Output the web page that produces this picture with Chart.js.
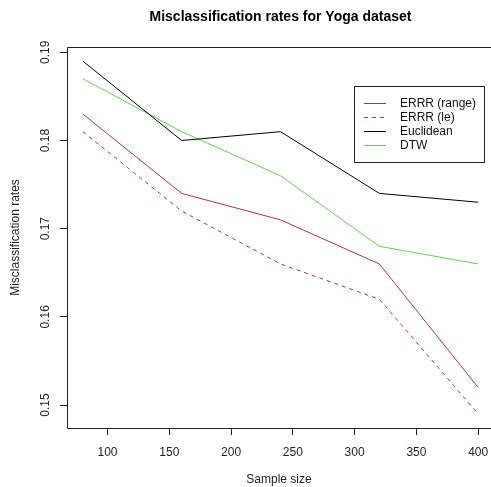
<!DOCTYPE html>
<html>
<head>
<meta charset="utf-8">
<script src="https://cdn.jsdelivr.net/npm/chart.js@4/dist/chart.umd.min.js"></script>
<style>
  html, body { margin: 0; padding: 0; background: #fff; overflow: hidden; }
  canvas { display: block; }
</style>
</head>
<body>
<canvas id="taxas" width="491" height="487"></canvas>
<script>
const sampleSizes = [80, 160, 240, 320, 400];
const errrRange = [0.183, 0.174, 0.171, 0.166, 0.152];
const errrLe = [0.181, 0.172, 0.166, 0.162, 0.149];
const euclidean = [0.189, 0.180, 0.181, 0.174, 0.173];
const dtw = [0.187, 0.181, 0.176, 0.168, 0.166];
const xTicks = [100, 150, 200, 250, 300, 350, 400];
const yTicks = [0.15, 0.16, 0.17, 0.18, 0.19];
const titulo = 'Misclassification rates for Yoga dataset';

const FONTE = "'Liberation Sans', Arial, sans-serif";

function pontos(ys) {
  return sampleSizes.map((x, i) => ({ x: x, y: ys[i] }));
}

// limites com 4% de folga, como no plot base do R
function faixa(vals) {
  const min = Math.min(...vals), max = Math.max(...vals);
  const d = (max - min) * 0.04;
  return [min - d, max + d];
}
const [xMin, xMaxR] = faixa(sampleSizes);
const [yMin, yMax] = faixa([].concat(errrRange, errrLe, euclidean, dtw));
// o canvas corta o plot 3px antes da borda direita (424 de 427px visiveis)
const xMax = xMin + (xMaxR - xMin) * 424 / 427;

// titulo centrado no plot inteiro, moldura (sem o lado direito, cortado) e legenda
const caixaELegenda = {
  id: 'caixaELegenda',
  afterDatasetsDraw(chart) {
    const { ctx, chartArea: a } = chart;
    ctx.save();
    ctx.fillStyle = '#000';
    ctx.font = 'bold 14px ' + FONTE;
    ctx.textAlign = 'center';
    ctx.textBaseline = 'middle';
    ctx.fillText(titulo, (a.left + a.right + 3) / 2, 17);

    const l = Math.round(a.left) + 0.5, t = Math.round(a.top) + 0.5, b = Math.round(a.bottom) + 0.5;
    ctx.strokeStyle = '#222';
    ctx.lineWidth = 1;
    ctx.setLineDash([]);
    ctx.beginPath();
    ctx.moveTo(chart.width, t);
    ctx.lineTo(l, t);
    ctx.lineTo(l, b);
    ctx.lineTo(chart.width, b);
    ctx.stroke();

    // legenda
    const lx = 354.5, ly = 86.5, lw = 130, lh = 76;
    ctx.fillStyle = '#fff';
    ctx.fillRect(lx, ly, lw, lh);
    ctx.strokeRect(lx, ly, lw, lh);
    ctx.font = '12px ' + FONTE;
    ctx.textAlign = 'left';
    chart.data.datasets.forEach((ds, i) => {
      const y = 103.5 + i * 14;
      ctx.strokeStyle = ds.borderColor;
      ctx.setLineDash(ds.borderDash || []);
      ctx.beginPath();
      ctx.moveTo(364, y);
      ctx.lineTo(386, y);
      ctx.stroke();
      ctx.fillStyle = '#111';
      ctx.fillText(ds.label, 400, y);
    });
    ctx.restore();
  }
};

new Chart(document.getElementById('taxas'), {
  type: 'line',
  data: {
    datasets: [
      { label: 'ERRR (range)', data: pontos(errrRange), borderColor: '#A8363A', borderWidth: 1 },
      { label: 'ERRR (le)', data: pontos(errrLe), borderColor: '#A8363A', borderWidth: 1, borderDash: [4, 4] },
      { label: 'Euclidean', data: pontos(euclidean), borderColor: '#000000', borderWidth: 1 },
      { label: 'DTW', data: pontos(dtw), borderColor: '#61D04F', borderWidth: 1 }
    ]
  },
  options: {
    responsive: false,
    animation: false,
    events: [],
    elements: { point: { radius: 0 }, line: { tension: 0 } },
    layout: { padding: { left: 0, right: 0, top: 47, bottom: 0 } },
    plugins: {
      legend: { display: false },
      tooltip: { enabled: false },
      title: { display: false }
    },
    scales: {
      x: {
        type: 'linear',
        min: xMin,
        max: xMax,
        afterBuildTicks: (s) => { s.ticks = xTicks.map(v => ({ value: v })); },
        afterFit: (s) => { s.height = 59; s.paddingLeft = 0; s.paddingRight = 0; },
        border: { display: false },
        grid: { drawOnChartArea: false, drawTicks: true, tickLength: 7, color: '#222' },
        ticks: {
          color: '#222',
          font: { family: FONTE, size: 12 },
          padding: 10,
          maxRotation: 0,
          autoSkip: false
        },
        title: {
          display: true,
          text: 'Sample size',
          color: '#222',
          font: { family: FONTE, size: 12 },
          padding: { top: 0, bottom: 0 }
        }
      },
      y: {
        type: 'linear',
        min: yMin,
        max: yMax,
        afterBuildTicks: (s) => { s.ticks = yTicks.map(v => ({ value: v })); },
        afterFit: (s) => { s.width = 67; s.paddingTop = 0; s.paddingBottom = 0; },
        border: { display: false },
        grid: { drawOnChartArea: false, drawTicks: true, tickLength: 7, color: '#222' },
        ticks: {
          color: '#222',
          font: { family: FONTE, size: 12 },
          padding: 3,
          minRotation: 90,
          maxRotation: 90,
          crossAlign: 'center',
          autoSkip: false,
          callback: (v) => String(Math.round(v * 100) / 100)
        },
        title: {
          display: true,
          text: 'Misclassification rates',
          color: '#222',
          font: { family: FONTE, size: 12 },
          padding: { top: 8, bottom: 0 }
        }
      }
    }
  },
  plugins: [caixaELegenda]
});
</script>
</body>
</html>
